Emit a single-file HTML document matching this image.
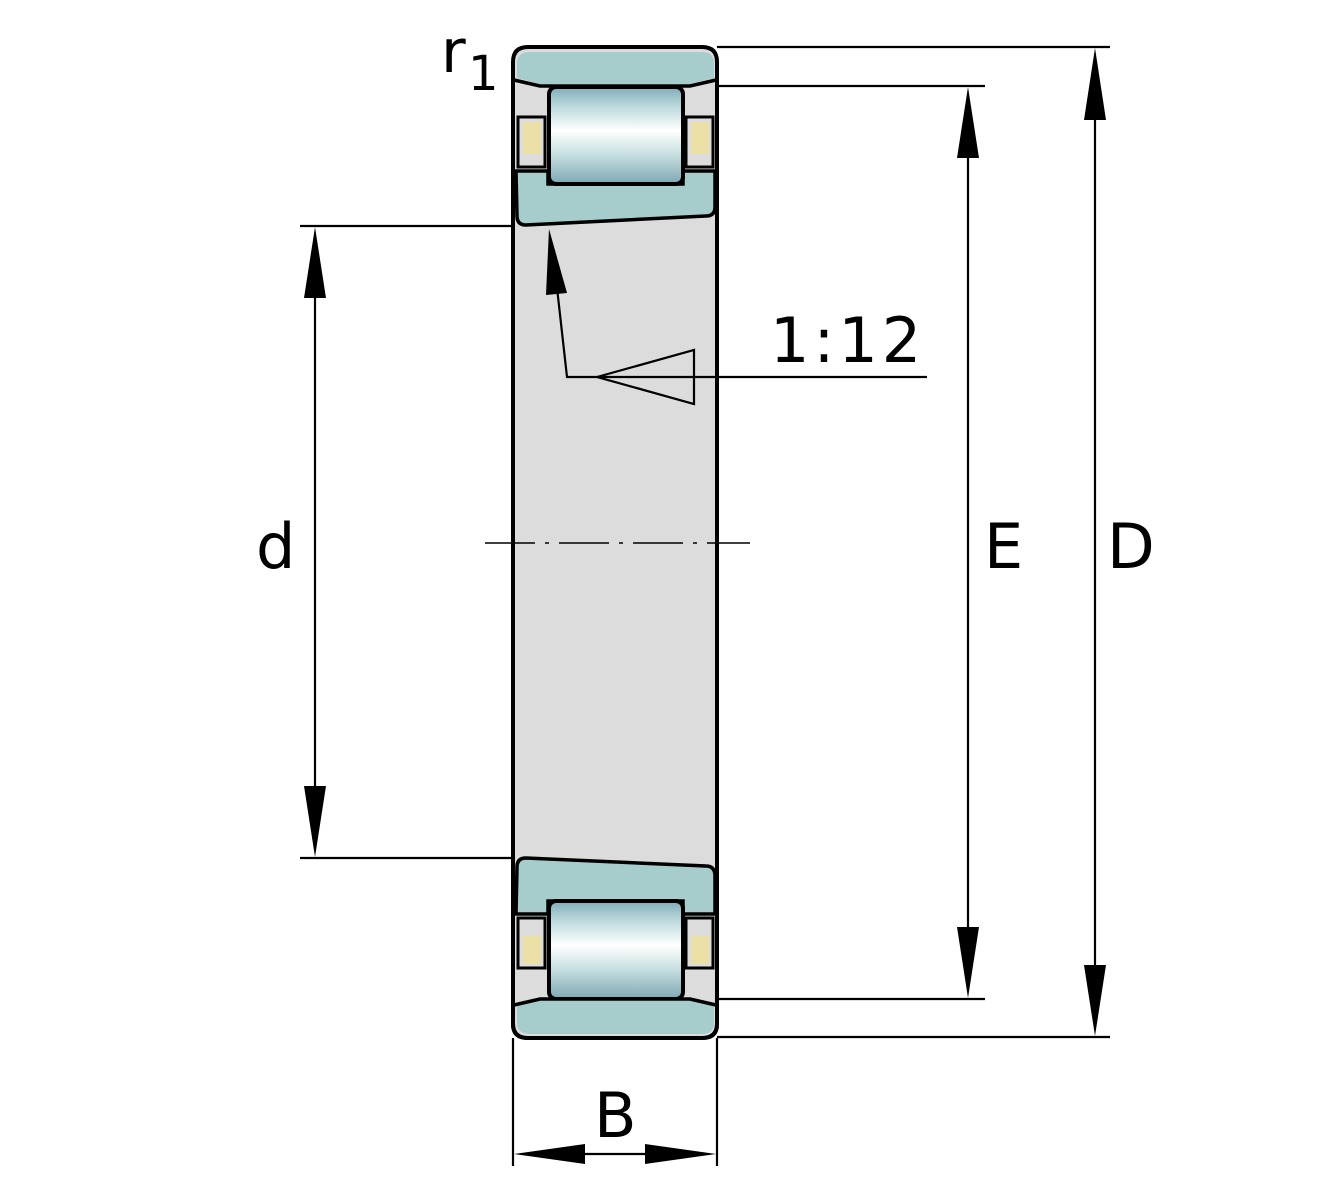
<!DOCTYPE html>
<html><head><meta charset="utf-8"><style>
html,body{margin:0;padding:0;background:#fff}
svg{display:block}
text{font-family:"DejaVu Sans","Liberation Sans",sans-serif;fill:#000}
</style></head><body>
<svg width="1330" height="1200" viewBox="0 0 1330 1200" xmlns="http://www.w3.org/2000/svg">
<defs>
<linearGradient id="rg" x1="0" y1="0" x2="0" y2="1">
<stop offset="0" stop-color="#7fadb8"/><stop offset="0.2" stop-color="#bcd9dc"/>
<stop offset="0.45" stop-color="#ffffff"/><stop offset="0.7" stop-color="#c6dfe0"/>
<stop offset="1" stop-color="#7fa7b3"/></linearGradient>
</defs>
<path d="M513,62 Q513,47 528,47 L702,47 Q717,47 717,62 L717,1024 Q717,1038 702,1038 L528,1038 Q513,1038 513,1024 Z" fill="#dcdcdc" stroke="#000" stroke-width="4"/>
<path d="M517,78 L517,64 Q517,52 530,52 L702,52 Q714,52 714,64 L714,78 L690,84 L540,84 Z" fill="#a6cccb"/>
<path d="M514,80 L540,86 L690,86 L716,80" fill="none" stroke="#000" stroke-width="3.5"/>
<path d="M516,171 L548,171 L548,184 L683,184 L683,171 L715,171 L715,207 Q715,216 706,216 L526,225 Q517,225 517,216 Z" fill="#a6cccb" stroke="#000" stroke-width="3.5"/>
<rect x="518" y="117" width="27" height="50" fill="#dcdcdc" stroke="#000" stroke-width="3"/>
<rect x="523" y="122" width="18" height="32" fill="#ebe0a6"/>
<rect x="686" y="117" width="27" height="50" fill="#dcdcdc" stroke="#000" stroke-width="3"/>
<rect x="691" y="122" width="18" height="32" fill="#ebe0a6"/>
<rect x="549" y="87" width="134" height="97" rx="7" fill="url(#rg)" stroke="#000" stroke-width="4"/>
<path d="M526,858 L706,866 Q715,866 715,876 L715,914 L683,914 L683,901 L548,901 L548,914 L516,914 L517,867 Q517,858 526,858 Z" fill="#a6cccb" stroke="#000" stroke-width="3.5"/>
<rect x="518" y="918" width="27" height="50" fill="#dcdcdc" stroke="#000" stroke-width="3"/>
<rect x="523" y="936" width="18" height="28" fill="#ebe0a6"/>
<rect x="686" y="918" width="27" height="50" fill="#dcdcdc" stroke="#000" stroke-width="3"/>
<rect x="691" y="936" width="18" height="28" fill="#ebe0a6"/>
<rect x="549" y="901" width="134" height="98" rx="7" fill="url(#rg)" stroke="#000" stroke-width="4"/>
<path d="M517,1006 L540,1000 L690,1000 L714,1006 L714,1022 Q714,1034 702,1034 L530,1034 Q517,1034 517,1022 Z" fill="#a6cccb"/>
<path d="M514,1005 L540,999 L690,999 L716,1005" fill="none" stroke="#000" stroke-width="3.5"/>
<path d="M513,1024 Q513,1038 528,1038 L702,1038 Q717,1038 717,1024" fill="none" stroke="#000" stroke-width="4"/>

<g stroke="#000" stroke-width="2.2" fill="none">
<line x1="717" y1="47" x2="1110" y2="47"/>
<line x1="717" y1="1037" x2="1110" y2="1037"/>
<line x1="717" y1="86" x2="985" y2="86"/>
<line x1="717" y1="999" x2="985" y2="999"/>
<line x1="300" y1="226" x2="515" y2="226"/>
<line x1="300" y1="858" x2="515" y2="858"/>
<line x1="513" y1="1038" x2="513" y2="1166"/>
<line x1="717" y1="1038" x2="717" y2="1166"/>
<line x1="1095" y1="100" x2="1095" y2="985"/>
<line x1="968" y1="140" x2="968" y2="945"/>
<line x1="315" y1="280" x2="315" y2="805"/>
<line x1="580" y1="1154" x2="650" y2="1154"/>
<polyline points="555,270 567,377 927,377"/>
<polygon points="597,377 694,350 694,404"/>
<line x1="485" y1="543" x2="750" y2="543" stroke-dasharray="50,10,4,10" stroke-width="1.5"/>
</g>
<g fill="#000">
<polygon points="1095,48 1084,120 1106,120"/>
<polygon points="1095,1036 1084,965 1106,965"/>
<polygon points="968,87 957,158 979,158"/>
<polygon points="968,998 957,927 979,927"/>
<polygon points="315,227 304,298 326,298"/>
<polygon points="315,857 304,786 326,786"/>
<polygon points="514,1154 585,1144 585,1164"/>
<polygon points="716,1154 645,1144 645,1164"/>
<polygon points="549,229 546,295 567,293"/>
</g>
<text x="441" y="72" font-size="60">r</text>
<text x="468" y="90" font-size="48">1</text>
<text x="770" y="362" font-size="62" letter-spacing="4">1:12</text>
<text x="256" y="568" font-size="62">d</text>
<text x="984" y="568" font-size="62">E</text>
<text x="1107" y="568" font-size="62">D</text>
<text x="594" y="1137" font-size="62">B</text>
</svg>
</body></html>
